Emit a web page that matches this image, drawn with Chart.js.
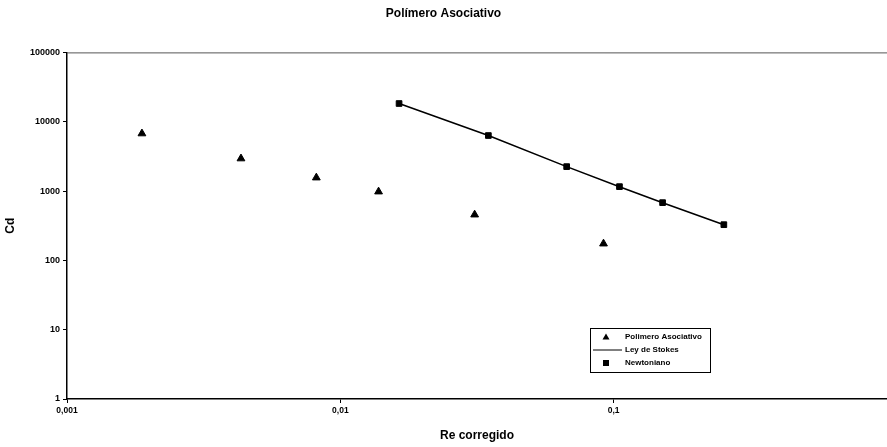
<!DOCTYPE html>
<html>
<head>
<meta charset="utf-8">
<script src="https://cdn.jsdelivr.net/npm/chart.js@4/dist/chart.umd.min.js"></script>
<style>
  html, body { margin: 0; padding: 0; background: #fff; }
  #wrap { width: 887px; height: 447px; }
</style>
</head>
<body>
<div id="wrap"><canvas id="chart" width="887" height="447"></canvas></div>
<script>
// datos
const polimeroRe = [0.00188, 0.00433, 0.00817, 0.0138, 0.0310, 0.0918];
const polimeroCd = [6750, 2940, 1560, 980, 456, 174];

const stokesRe = [0.0164, 0.0348, 0.0673, 0.105, 0.151, 0.253];
const stokesCd = [18300, 6320, 2250, 1157, 680, 327];

const newtRe = [0.0164, 0.0348, 0.0673, 0.105, 0.151, 0.253];
const newtCd = [18300, 6320, 2250, 1157, 680, 327];

const xTickLabels = { 0.001: '0,001', 0.01: '0,01', 0.1: '0,1' };
const yTickLabels = { 1: '1', 10: '10', 100: '100', 1000: '1000', 10000: '10000', 100000: '100000' };

const FONT = "'Liberation Sans', Arial, sans-serif";

function toPoints(xs, ys) {
    return xs.map((x, i) => ({ x: x, y: ys[i] }));
}

function isDecade(v) {
    const l = Math.log10(v);
    return Math.abs(l - Math.round(l)) < 1e-9;
}

// borde superior + leyenda dentro del area
const boxPlugin = {
    id: 'boxPlugin',
    afterDraw(chart) {
        const ctx = chart.ctx;
        const a = chart.chartArea;
        ctx.save();
        ctx.strokeStyle = '#555';
        ctx.lineWidth = 1;
        ctx.beginPath();
        ctx.moveTo(a.left, a.top + 0.5);
        ctx.lineTo(a.right, a.top + 0.5);
        ctx.stroke();

        // leyenda
        const lx = 590, ly = 328, lw = 120, lh = 44;
        ctx.fillStyle = '#fff';
        ctx.fillRect(lx, ly, lw, lh);
        ctx.strokeStyle = '#000';
        ctx.strokeRect(lx + 0.5, ly + 0.5, lw, lh);
        ctx.font = 'bold 8px ' + FONT;
        ctx.textBaseline = 'middle';
        ctx.fillStyle = '#000';
        const rows = [
            { text: chart.data.datasets[0].label, y: ly + 9, kind: 'tri' },
            { text: chart.data.datasets[1].label, y: ly + 22, kind: 'line' },
            { text: chart.data.datasets[2].label, y: ly + 35, kind: 'sq' }
        ];
        rows.forEach(r => {
            const mx = lx + 16;
            if (r.kind === 'tri') {
                ctx.beginPath();
                ctx.moveTo(mx, r.y - 3.5);
                ctx.lineTo(mx + 3.5, r.y + 2.5);
                ctx.lineTo(mx - 3.5, r.y + 2.5);
                ctx.closePath();
                ctx.fill();
            } else if (r.kind === 'line') {
                ctx.beginPath();
                ctx.lineWidth = 1;
                ctx.moveTo(lx + 3, r.y);
                ctx.lineTo(lx + 32, r.y);
                ctx.stroke();
            } else {
                ctx.fillRect(mx - 3, r.y - 3, 6, 6);
            }
            ctx.fillText(r.text, lx + 35, r.y);
        });
        ctx.restore();
    }
};

const ctx = document.getElementById('chart').getContext('2d');
new Chart(ctx, {
    type: 'scatter',
    data: {
        datasets: [
            {
                label: 'Polimero Asociativo',
                data: toPoints(polimeroRe, polimeroCd),
                pointStyle: 'triangle',
                pointRadius: 4.5,
                backgroundColor: '#000',
                borderColor: '#000',
                showLine: false
            },
            {
                label: 'Ley de Stokes',
                data: toPoints(stokesRe, stokesCd),
                showLine: true,
                borderColor: '#000',
                borderWidth: 1.6,
                pointRadius: 0,
                fill: false
            },
            {
                label: 'Newtoniano',
                data: toPoints(newtRe, newtCd),
                pointStyle: 'rect',
                pointRadius: 4,
                backgroundColor: '#000',
                borderColor: '#000',
                showLine: false
            }
        ]
    },
    options: {
        responsive: false,
        animation: false,
        layout: { autoPadding: false, padding: 0 },
        plugins: {
            legend: { display: false },
            tooltip: { enabled: false },
            title: {
                display: true,
                text: 'Polímero Asociativo',
                color: '#000',
                font: { family: FONT, size: 12, weight: 'bold' },
                padding: { top: 6, bottom: 32 }
            }
        },
        scales: {
            x: {
                type: 'logarithmic',
                min: 0.001,
                max: 1,
                afterBuildTicks: s => { s.ticks = s.ticks.filter(t => isDecade(t.value) && t.value < 1); },
                afterFit: s => { s.height = 48; s.paddingRight = 0; },
                border: { display: true, color: '#000', width: 1.5 },
                grid: { drawOnChartArea: false, color: '#000', tickLength: 4 },
                ticks: {
                    autoSkip: false,
                    maxRotation: 0,
                    color: '#000',
                    padding: 3,
                    font: { family: FONT, size: 8.5, weight: 'bold' },
                    callback: v => xTickLabels[v] || ''
                },
                title: {
                    display: true,
                    text: 'Re corregido',
                    color: '#000',
                    font: { family: FONT, size: 12, weight: 'bold' },
                    padding: { top: 8 }
                }
            },
            y: {
                type: 'logarithmic',
                min: 1,
                max: 100000,
                afterBuildTicks: s => { s.ticks = s.ticks.filter(t => isDecade(t.value)); },
                afterFit: s => { s.width = 67; },
                border: { display: true, color: '#000', width: 1.5 },
                grid: { drawOnChartArea: false, color: '#000', tickLength: 4 },
                ticks: {
                    autoSkip: false,
                    color: '#000',
                    padding: 3,
                    font: { family: FONT, size: 9, weight: 'bold' },
                    callback: v => yTickLabels[v] || ''
                },
                title: {
                    display: true,
                    text: 'Cd',
                    color: '#000',
                    font: { family: FONT, size: 12, weight: 'bold' },
                    padding: { bottom: 0, top: 3 }
                }
            }
        }
    },
    plugins: [boxPlugin]
});
</script>
</body>
</html>
